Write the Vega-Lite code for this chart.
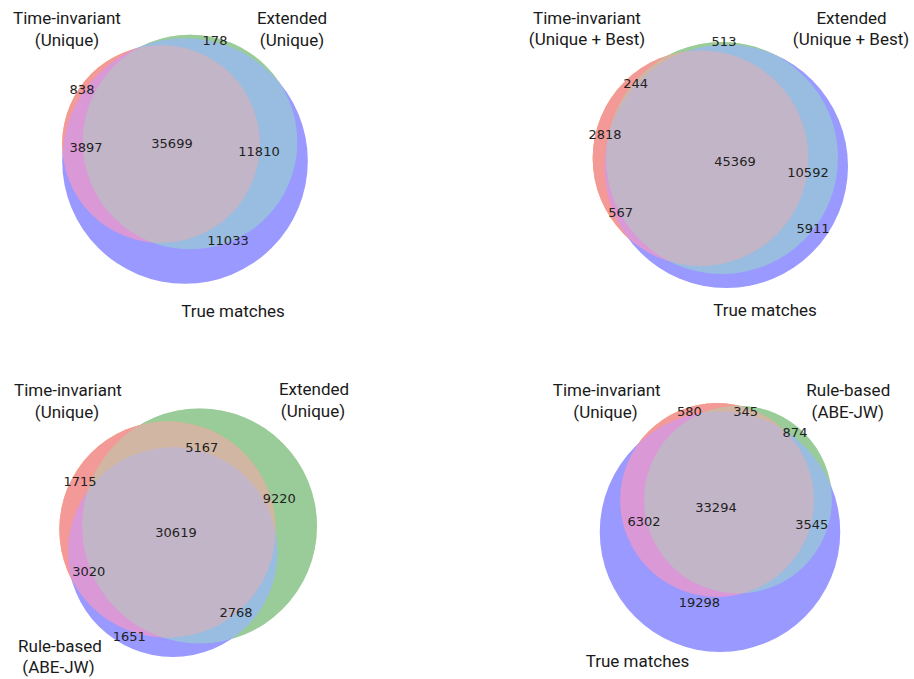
{
  "$schema": "https://vega.github.io/schema/vega-lite/v6.json",
  "padding": 0,
  "spacing": 0,
  "bounds": "flush",
  "columns": 2,
  "background": "white",
  "config": {"view": {"stroke": null}},
  "resolve": {"scale": {"size": "independent"}},
  "datasets": {
    "venn": [
      {"panel": 1, "kind": "set", "set": "A", "name": "Time-invariant (Unique)", "total": 40434, "x": 161, "y": 144},
      {"panel": 1, "kind": "set", "set": "B", "name": "Extended (Unique)", "total": 47687, "x": 190, "y": 142},
      {"panel": 1, "kind": "set", "set": "C", "name": "True matches", "total": 62439, "x": 185, "y": 161},
      {"panel": 1, "kind": "count", "count": 178, "x": 215, "y": 41},
      {"panel": 1, "kind": "count", "count": 838, "x": 82, "y": 90},
      {"panel": 1, "kind": "count", "count": 3897, "x": 86, "y": 148},
      {"panel": 1, "kind": "count", "count": 35699, "x": 172, "y": 144},
      {"panel": 1, "kind": "count", "count": 11810, "x": 259, "y": 152},
      {"panel": 1, "kind": "count", "count": 11033, "x": 228, "y": 241},
      {"panel": 1, "kind": "title", "text": "Time-invariant", "x": 67, "y": 19},
      {"panel": 1, "kind": "title", "text": "(Unique)", "x": 67, "y": 41},
      {"panel": 1, "kind": "title", "text": "Extended", "x": 292, "y": 19},
      {"panel": 1, "kind": "title", "text": "(Unique)", "x": 292, "y": 41},
      {"panel": 1, "kind": "title", "text": "True matches", "x": 233, "y": 312},

      {"panel": 2, "kind": "set", "set": "A", "name": "Time-invariant (Unique + Best)", "total": 48998, "x": 243.5, "y": 158.2},
      {"panel": 2, "kind": "set", "set": "B", "name": "Extended (Unique + Best)", "total": 56718, "x": 265, "y": 158},
      {"panel": 2, "kind": "set", "set": "C", "name": "True matches", "total": 62439, "x": 269.3, "y": 166.3},
      {"panel": 2, "kind": "count", "count": 513, "x": 267, "y": 42.3},
      {"panel": 2, "kind": "count", "count": 244, "x": 178.7, "y": 84.3},
      {"panel": 2, "kind": "count", "count": 2818, "x": 148, "y": 135},
      {"panel": 2, "kind": "count", "count": 45369, "x": 278, "y": 162.3},
      {"panel": 2, "kind": "count", "count": 10592, "x": 351, "y": 172.7},
      {"panel": 2, "kind": "count", "count": 567, "x": 163.7, "y": 212.7},
      {"panel": 2, "kind": "count", "count": 5911, "x": 356, "y": 229},
      {"panel": 2, "kind": "title", "text": "Time-invariant", "x": 130, "y": 18.5},
      {"panel": 2, "kind": "title", "text": "(Unique + Best)", "x": 130, "y": 40},
      {"panel": 2, "kind": "title", "text": "Extended", "x": 394.5, "y": 18.5},
      {"panel": 2, "kind": "title", "text": "(Unique + Best)", "x": 394, "y": 40},
      {"panel": 2, "kind": "title", "text": "True matches", "x": 308, "y": 311},

      {"panel": 3, "kind": "set", "set": "A", "name": "Time-invariant (Unique)", "total": 40521, "x": 167.5, "y": 190.5},
      {"panel": 3, "kind": "set", "set": "B", "name": "Extended (Unique)", "total": 47774, "x": 199.5, "y": 187},
      {"panel": 3, "kind": "set", "set": "C", "name": "Rule-based (ABE-JW)", "total": 38058, "x": 172.8, "y": 213.2},
      {"panel": 3, "kind": "count", "count": 5167, "x": 201.7, "y": 109.3},
      {"panel": 3, "kind": "count", "count": 1715, "x": 80, "y": 142.7},
      {"panel": 3, "kind": "count", "count": 9220, "x": 279.3, "y": 160},
      {"panel": 3, "kind": "count", "count": 30619, "x": 176, "y": 194.3},
      {"panel": 3, "kind": "count", "count": 3020, "x": 88.7, "y": 232.7},
      {"panel": 3, "kind": "count", "count": 2768, "x": 236, "y": 274.3},
      {"panel": 3, "kind": "count", "count": 1651, "x": 129.3, "y": 297.7},
      {"panel": 3, "kind": "title", "text": "Time-invariant", "x": 68, "y": 51.7},
      {"panel": 3, "kind": "title", "text": "(Unique)", "x": 67, "y": 73.7},
      {"panel": 3, "kind": "title", "text": "Extended", "x": 314, "y": 51},
      {"panel": 3, "kind": "title", "text": "(Unique)", "x": 313, "y": 73},
      {"panel": 3, "kind": "title", "text": "Rule-based", "x": 60, "y": 307.7},
      {"panel": 3, "kind": "title", "text": "(ABE-JW)", "x": 58.5, "y": 329},

      {"panel": 4, "kind": "set", "set": "A", "name": "Time-invariant (Unique)", "total": 40521, "x": 260, "y": 161},
      {"panel": 4, "kind": "set", "set": "B", "name": "Rule-based (ABE-JW)", "total": 38058, "x": 281, "y": 160.6},
      {"panel": 4, "kind": "set", "set": "C", "name": "True matches", "total": 62439, "x": 263, "y": 192.7},
      {"panel": 4, "kind": "count", "count": 580, "x": 232.3, "y": 72.7},
      {"panel": 4, "kind": "count", "count": 345, "x": 288.7, "y": 73.3},
      {"panel": 4, "kind": "count", "count": 874, "x": 338, "y": 93.7},
      {"panel": 4, "kind": "count", "count": 33294, "x": 259, "y": 168.7},
      {"panel": 4, "kind": "count", "count": 6302, "x": 187, "y": 182.7},
      {"panel": 4, "kind": "count", "count": 3545, "x": 354.7, "y": 186},
      {"panel": 4, "kind": "count", "count": 19298, "x": 242.3, "y": 264.3},
      {"panel": 4, "kind": "title", "text": "Time-invariant", "x": 149.7, "y": 51.7},
      {"panel": 4, "kind": "title", "text": "(Unique)", "x": 148.5, "y": 73.7},
      {"panel": 4, "kind": "title", "text": "Rule-based", "x": 391.3, "y": 51.7},
      {"panel": 4, "kind": "title", "text": "(ABE-JW)", "x": 390.8, "y": 73.7},
      {"panel": 4, "kind": "title", "text": "True matches", "x": 180.5, "y": 322.7}
    ]
  },
  "data": {"name": "venn"},
  "concat": [
    {
      "width": 457, "height": 339,
      "transform": [{"filter": "datum.panel == 1"}],
      "encoding": {
        "x": {"field": "x", "type": "quantitative", "scale": {"domain": [0, 457], "nice": false, "zero": false}, "axis": null},
        "y": {"field": "y", "type": "quantitative", "scale": {"domain": [0, 339], "nice": false, "zero": false, "reverse": true}, "axis": null},
        "size": {"field": "total", "type": "quantitative", "scale": {"domain": [0, 100000], "range": [0, 96630]}, "legend": null}
      },
      "layer": [
        {"transform": [{"filter": "datum.set == 'B'"}], "mark": {"type": "point", "shape": "circle", "filled": true, "color": "#99b384", "opacity": 1, "strokeWidth": 0}},
        {"transform": [{"filter": "datum.set == 'A'"}], "mark": {"type": "point", "shape": "circle", "filled": true, "color": "#ff9c03", "opacity": 1, "strokeWidth": 0}},
        {"transform": [{"filter": "datum.set == 'C'"}], "mark": {"type": "point", "shape": "circle", "filled": true, "color": "#9999ff", "opacity": 1, "strokeWidth": 0}},
        {"transform": [{"filter": "datum.set == 'A'"}], "mark": {"type": "point", "shape": "circle", "filled": true, "color": "#ff99d3", "opacity": 0.696, "strokeWidth": 0}},
        {"transform": [{"filter": "datum.set == 'B'"}], "mark": {"type": "point", "shape": "circle", "filled": true, "color": "#99eeb6", "opacity": 0.4225, "strokeWidth": 0}},
        {"transform": [{"filter": "datum.set == 'A'"}], "mark": {"type": "point", "shape": "circle", "filled": true, "color": "#c295b0", "opacity": 0.2, "strokeWidth": 0}},
        {"transform": [{"filter": "datum.kind == 'count'"}], "mark": {"type": "text", "font": "DejaVu Sans", "fontSize": 13, "color": "#222222", "align": "center", "baseline": "middle"},
         "encoding": {"size": null, "text": {"field": "count", "type": "quantitative", "format": "d"}}},
        {"transform": [{"filter": "datum.kind == 'title'"}], "mark": {"type": "text", "font": "Roboto", "fontSize": 17, "color": "#1a1a1a", "align": "center", "baseline": "middle"},
         "encoding": {"size": null, "text": {"field": "text", "type": "nominal"}}}
      ]
    },
    {
      "width": 457, "height": 339,
      "transform": [{"filter": "datum.panel == 2"}],
      "encoding": {
        "x": {"field": "x", "type": "quantitative", "scale": {"domain": [0, 457], "nice": false, "zero": false}, "axis": null},
        "y": {"field": "y", "type": "quantitative", "scale": {"domain": [0, 339], "nice": false, "zero": false, "reverse": true}, "axis": null},
        "size": {"field": "total", "type": "quantitative", "scale": {"domain": [0, 100000], "range": [0, 94870]}, "legend": null}
      },
      "layer": [
        {"transform": [{"filter": "datum.set == 'B'"}], "mark": {"type": "point", "shape": "circle", "filled": true, "color": "#99b384", "opacity": 1, "strokeWidth": 0}},
        {"transform": [{"filter": "datum.set == 'A'"}], "mark": {"type": "point", "shape": "circle", "filled": true, "color": "#ff9c03", "opacity": 1, "strokeWidth": 0}},
        {"transform": [{"filter": "datum.set == 'C'"}], "mark": {"type": "point", "shape": "circle", "filled": true, "color": "#9999ff", "opacity": 1, "strokeWidth": 0}},
        {"transform": [{"filter": "datum.set == 'A'"}], "mark": {"type": "point", "shape": "circle", "filled": true, "color": "#ff99d3", "opacity": 0.696, "strokeWidth": 0}},
        {"transform": [{"filter": "datum.set == 'B'"}], "mark": {"type": "point", "shape": "circle", "filled": true, "color": "#99eeb6", "opacity": 0.4225, "strokeWidth": 0}},
        {"transform": [{"filter": "datum.set == 'A'"}], "mark": {"type": "point", "shape": "circle", "filled": true, "color": "#c295b0", "opacity": 0.2, "strokeWidth": 0}},
        {"transform": [{"filter": "datum.kind == 'count'"}], "mark": {"type": "text", "font": "DejaVu Sans", "fontSize": 13, "color": "#222222", "align": "center", "baseline": "middle"},
         "encoding": {"size": null, "text": {"field": "count", "type": "quantitative", "format": "d"}}},
        {"transform": [{"filter": "datum.kind == 'title'"}], "mark": {"type": "text", "font": "Roboto", "fontSize": 17, "color": "#1a1a1a", "align": "center", "baseline": "middle"},
         "encoding": {"size": null, "text": {"field": "text", "type": "nominal"}}}
      ]
    },
    {
      "width": 457, "height": 339,
      "transform": [{"filter": "datum.panel == 3"}],
      "encoding": {
        "x": {"field": "x", "type": "quantitative", "scale": {"domain": [0, 457], "nice": false, "zero": false}, "axis": null},
        "y": {"field": "y", "type": "quantitative", "scale": {"domain": [0, 339], "nice": false, "zero": false, "reverse": true}, "axis": null},
        "size": {"field": "total", "type": "quantitative", "scale": {"domain": [0, 100000], "range": [0, 115520]}, "legend": null}
      },
      "layer": [
        {"transform": [{"filter": "datum.set == 'B'"}], "mark": {"type": "point", "shape": "circle", "filled": true, "color": "#99b384", "opacity": 1, "strokeWidth": 0}},
        {"transform": [{"filter": "datum.set == 'A'"}], "mark": {"type": "point", "shape": "circle", "filled": true, "color": "#ff9c03", "opacity": 1, "strokeWidth": 0}},
        {"transform": [{"filter": "datum.set == 'C'"}], "mark": {"type": "point", "shape": "circle", "filled": true, "color": "#9999ff", "opacity": 1, "strokeWidth": 0}},
        {"transform": [{"filter": "datum.set == 'A'"}], "mark": {"type": "point", "shape": "circle", "filled": true, "color": "#ff99d3", "opacity": 0.696, "strokeWidth": 0}},
        {"transform": [{"filter": "datum.set == 'B'"}], "mark": {"type": "point", "shape": "circle", "filled": true, "color": "#99eeb6", "opacity": 0.4225, "strokeWidth": 0}},
        {"transform": [{"filter": "datum.set == 'A'"}], "mark": {"type": "point", "shape": "circle", "filled": true, "color": "#c295b0", "opacity": 0.2, "strokeWidth": 0}},
        {"transform": [{"filter": "datum.kind == 'count'"}], "mark": {"type": "text", "font": "DejaVu Sans", "fontSize": 13, "color": "#222222", "align": "center", "baseline": "middle"},
         "encoding": {"size": null, "text": {"field": "count", "type": "quantitative", "format": "d"}}},
        {"transform": [{"filter": "datum.kind == 'title'"}], "mark": {"type": "text", "font": "Roboto", "fontSize": 17, "color": "#1a1a1a", "align": "center", "baseline": "middle"},
         "encoding": {"size": null, "text": {"field": "text", "type": "nominal"}}}
      ]
    },
    {
      "width": 457, "height": 339,
      "transform": [{"filter": "datum.panel == 4"}],
      "encoding": {
        "x": {"field": "x", "type": "quantitative", "scale": {"domain": [0, 457], "nice": false, "zero": false}, "axis": null},
        "y": {"field": "y", "type": "quantitative", "scale": {"domain": [0, 339], "nice": false, "zero": false, "reverse": true}, "axis": null},
        "size": {"field": "total", "type": "quantitative", "scale": {"domain": [0, 100000], "range": [0, 92620]}, "legend": null}
      },
      "layer": [
        {"transform": [{"filter": "datum.set == 'B'"}], "mark": {"type": "point", "shape": "circle", "filled": true, "color": "#99b384", "opacity": 1, "strokeWidth": 0}},
        {"transform": [{"filter": "datum.set == 'A'"}], "mark": {"type": "point", "shape": "circle", "filled": true, "color": "#ff9c03", "opacity": 1, "strokeWidth": 0}},
        {"transform": [{"filter": "datum.set == 'C'"}], "mark": {"type": "point", "shape": "circle", "filled": true, "color": "#9999ff", "opacity": 1, "strokeWidth": 0}},
        {"transform": [{"filter": "datum.set == 'A'"}], "mark": {"type": "point", "shape": "circle", "filled": true, "color": "#ff99d3", "opacity": 0.696, "strokeWidth": 0}},
        {"transform": [{"filter": "datum.set == 'B'"}], "mark": {"type": "point", "shape": "circle", "filled": true, "color": "#99eeb6", "opacity": 0.4225, "strokeWidth": 0}},
        {"transform": [{"filter": "datum.set == 'A'"}], "mark": {"type": "point", "shape": "circle", "filled": true, "color": "#c295b0", "opacity": 0.2, "strokeWidth": 0}},
        {"transform": [{"filter": "datum.kind == 'count'"}], "mark": {"type": "text", "font": "DejaVu Sans", "fontSize": 13, "color": "#222222", "align": "center", "baseline": "middle"},
         "encoding": {"size": null, "text": {"field": "count", "type": "quantitative", "format": "d"}}},
        {"transform": [{"filter": "datum.kind == 'title'"}], "mark": {"type": "text", "font": "Roboto", "fontSize": 17, "color": "#1a1a1a", "align": "center", "baseline": "middle"},
         "encoding": {"size": null, "text": {"field": "text", "type": "nominal"}}}
      ]
    }
  ]
}
